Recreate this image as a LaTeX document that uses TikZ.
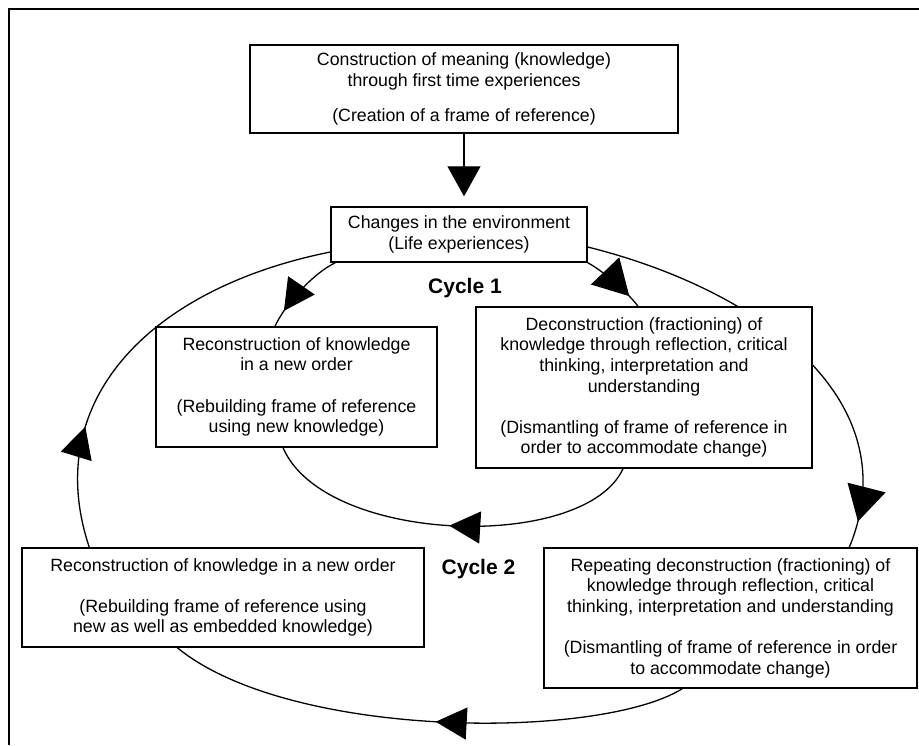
\documentclass[tikz,border=0pt]{standalone}
\usepackage{fontspec}
\setmainfont{Liberation Sans}
\usetikzlibrary{arrows.meta,calc,decorations.markings,backgrounds}
\tikzset{
  box/.style={draw, line width=1.4pt, fill=white, align=center, inner sep=0pt,
    font=\fontsize{17.75}{20.6}\selectfont},
  cyclelabel/.style={font=\fontsize{21}{24}\selectfont\bfseries, inner sep=0pt},
  curve/.style={line width=1.3pt},
  bigtip/.style={-{Triangle[width=33pt,length=30pt]}},
  markarrow/.style={postaction={decorate}, decoration={markings,
    mark=at position #1 with {\arrow{Triangle[width=32pt,length=31pt]}}}},
  markarrowbig/.style={postaction={decorate}, decoration={markings,
    mark=at position #1 with {\arrow{Triangle[width=39pt,length=35pt]}}}}
}
\begin{document}
\begin{tikzpicture}[x=1pt,y=-1pt]
\useasboundingbox (0,0) rectangle (919,745);
% outer frame (cropped)
\draw[line width=1.3pt] (919,9) -- (9,9) -- (9,745);

\node[box, minimum width=428pt, minimum height=88pt] (top) at (464,89)
  {Construction of meaning (knowledge)\\ through first time experiences\\[14pt] (Creation of a frame of reference)};
\node[box, minimum width=256pt, minimum height=55pt] (changes) at (459,234.5)
  {Changes in the environment\\ (Life experiences)};
\node[box, minimum width=336pt, minimum height=161pt] (decon) at (644,387.5)
  {Deconstruction (fractioning) of\\ knowledge through reflection, critical\\ thinking, interpretation and\\ understanding\\[20.6pt] (Dismantling of frame of reference in\\ order to accommodate change)};
\node[box, minimum width=281pt, minimum height=120pt] (recon) at (296.5,387)
  {Reconstruction of knowledge\\ in a new order\\[20.6pt] (Rebuilding frame of reference\\ using new knowledge)};
\node[box, minimum width=402pt, minimum height=99pt] (bl) at (223,597.5)
  {Reconstruction of knowledge in a new order\\[20.6pt] (Rebuilding frame of reference using\\ new as well as embedded knowledge)};
\node[box, minimum width=373pt, minimum height=140pt] (br) at (730.5,618)
  {Repeating deconstruction (fractioning) of\\ knowledge through reflection, critical\\ thinking, interpretation and understanding\\[20.6pt] (Dismantling of frame of reference in order\\ to accommodate change)};

\node[cyclelabel] (c1) at (465,288) {Cycle 1};
\node[cyclelabel] (c2) at (478.5,569) {Cycle 2};

% top arrow
\draw[curve, bigtip, shorten >=10pt] (top.south) -- (top.south |- changes.north);

\begin{scope}[on background layer]
% cycle 1 (inner)
\draw[curve, markarrowbig=0.8] (changes.south east)
  .. controls (605,272) and (630,295) .. ($(decon.north)+(-6,0)$);
\draw[curve, markarrow=0.5] ($(decon.south)+(-21,0)$)
  .. controls (585,552) and (325,545) .. ($(recon.south)+(-13.5,0)$);
\draw[curve, markarrow=0.8] ($(changes.south west)+(5,0)$)
  .. controls (312,274) and (284,306) .. ($(recon.north)+(-21.5,0)$);
% cycle 2 (outer)
\draw[curve, markarrowbig=0.94] ($(changes.east)+(0,12.5)$)
  .. controls (760,290) and (910,400) .. ($(br.north west)+(306,0)$);
\draw[curve, markarrow=0.48] ($(br.south west)+(139,0)$)
  .. controls (600,740) and (290,740) .. ($(bl.south west)+(156,0)$);
\draw[curve, markarrow=0.28] ($(bl.north west)+(68,0)$)
  .. controls (40,400) and (151,288) .. ($(changes.west)+(0,17.5)$);
\end{scope}
\end{tikzpicture}
\end{document}
